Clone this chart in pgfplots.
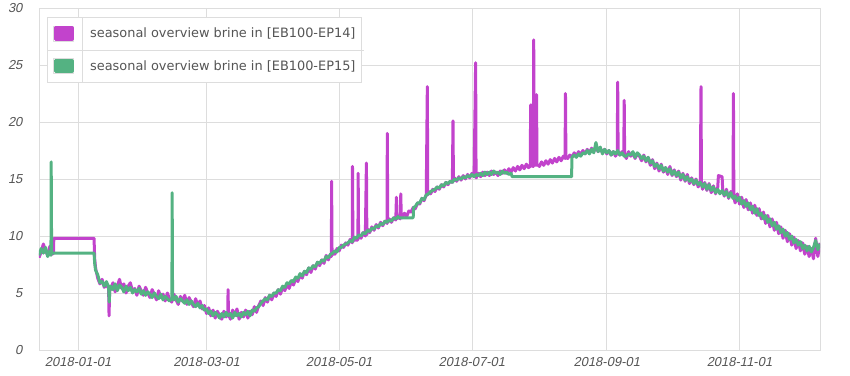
\documentclass[border=0pt]{standalone}
\usepackage{pgfplots}
\pgfplotsset{compat=1.18}
\usepackage{fontspec}
\setmainfont{Liberation Sans}
\newfontfamily\legfont{DejaVu Sans}
\newfontfamily\tickfont{Liberation Sans}[FakeSlant=0.2]
\definecolor{cP}{RGB}{194,67,204}
\definecolor{cG}{RGB}{84,178,130}
\definecolor{gridc}{RGB}{221,221,221}
\definecolor{tickc}{RGB}{85,85,85}
\begin{document}
\begin{tikzpicture}
\path[use as bounding box] (-39pt,-25pt) rectangle (811pt,350pt);
\begin{axis}[
 at={(0pt,0pt)}, anchor=south west,
 scale only axis, width=781pt, height=342pt,
 xmin=-18, xmax=341, ymin=0, ymax=30,
 xtick={0,59,120,181,243,304},
 xticklabels={2018-01-01,2018-03-01,2018-05-01,2018-07-01,2018-09-01,2018-11-01},
 ytick={0,5,10,15,20,25,30},
 grid=major, major grid style={draw=gridc, line width=0.8pt},
 axis line style={draw=gridc, line width=0.8pt},
 tick style={draw=none},
 /pgf/number format/assume math mode=true,
 tick label style={font=\tickfont\fontsize{13}{13}\selectfont, text=tickc},
 yticklabel style={xshift=-13pt},
 xticklabel style={yshift=-3.5pt},
 legend cell align=left,
 legend image code/.code={\draw[draw=gridc, fill=white, line width=0.8pt] (0pt,-7.5pt) rectangle (20pt,7.5pt); \fill[#1] (1.6pt,-5.9pt) rectangle (18.4pt,5.9pt);},
 legend style={at={(axis description cs:0.0102,0.974)}, anchor=north west, draw=gridc, line width=0.8pt, fill=white,
   font=\legfont\fontsize{12.9}{14}\selectfont, text=tickc, inner xsep=6pt, inner ysep=0pt, row sep=0pt, column sep=16pt,
   nodes={inner sep=0pt, minimum height=32.5pt, anchor=west}},
]
\addplot[cP, line width=3pt, line join=round] coordinates {
(-18,8.1) (-17,8.6) (-16,9.3) (-15,8.7) (-14,8.3) (-13,9.1) (-12,8.4) (-11.3,8.5) (-11.2,9.8) (7.3,9.8) (7.6,8.0) (8,7.2) (9,6.3) (10,5.8) (11,6.2) (12,5.5) (13,5.7) (14,5.4) (14.2,3.0) (14.5,5.5)
(15,5.3) (16,5.9) (17,5.1) (18,5.6) (19,6.2) (20,5.4) (21,5.8) (22,5.0) (23,5.6) (24,5.9) (25,5.1) (26,5.4) (27,4.8) (28,5.6) (29,5.2) (30,4.8) (31,5.5) (32,5.0) (33,4.6) (34,5.3) (35,4.9) (36,4.4) (37,5.2) (38,4.6) (39,4.9) (40,4.3) (41,5.0) (42,4.5) (43,4.2) (44,4.9) (45,4.4) (46,4.0) (47,4.7) (48,4.3) (49,4.8) (50,4.0) (51,4.6) (52,4.2) (53,3.8) (54,4.5) (55,3.9) (56,4.3) (57,3.6) (58,3.9) (59,3.2) (60,3.7) (61,3.0) (62,3.5) (63,2.8) (64,3.4) (65,3.0) (66,2.7) (67,3.4) (68,2.9) (68.8,3.2) (68.9,5.3) (69.1,3.1) (70,2.7) (71,3.5) (72,3.0) (73,3.6) (74,2.7) (75,3.3) (76,2.9) (77,3.5) (78,2.8) (79,3.4) (80,3.1) (81,3.8) (82,3.3) (83,3.9)
(84,4.3) (85,3.9) (86,4.6) (87,4.2) (88,4.8) (89,4.4) (90,5.0) (91,4.7) (92,5.3) (93,4.9) (94,5.5) (95,5.2) (96,5.8) (97,5.4) (98,6.0) (99,5.7) (100,6.3) (101,6.0) (102,6.6) (103,6.3) (104,6.9) (105,6.6) (106,7.2) (107,6.8) (108,7.4) (109,7.1) (110,7.7) (111,7.4) (112,7.9) (113,7.6) (114,8.3) (115,7.9) (116,8.4) (116.4,8.2) (116.5,14.8) (116.7,8.3) (117,8.6) (118,8.4) (119,8.9) (120,8.7) (121,9.2) (122,9.0) (123,9.4) (124,9.2) (125,9.7) (126,9.4) (126.1,16.1) (126.3,9.5) (127,9.8) (128,9.6) (128.6,9.7) (128.7,15.5) (128.9,9.9) (129,10.1) (130,9.8) (131,10.3) (132,10.0) (132.5,16.4) (132.7,10.1) (133,10.6) (134,10.3) (135,10.8) (136,10.5) (137,11.0) (138,10.7) (139,11.2) (140,10.9) (141,11.3) (142,11.1) (142.1,19.0) (142.3,11.2) (143,11.5) (144,11.2) (145,11.6) (146,11.4) (146.3,13.4) (146.5,11.5) (147,11.8) (148,11.5) (148.3,13.7) (148.5,11.8) (149,11.6) (150,12.0) (151,11.7) (152,12.2) (153,12.1) (154,12.5) (155,12.4) (156,12.9) (157,12.8) (158,13.3) (159,13.1) (160,13.6) (160.5,23.1) (160.7,13.6) (161,13.9) (162,13.7) (163,14.1) (164,13.9) (165,14.3) (166,14.1) (167,14.5) (168,14.3) (169,14.7) (170,14.5) (171,14.8) (172,14.7) (172.3,20.1) (172.5,14.8) (173,15.1) (174,14.8) (175,15.2) (176,14.9) (177,15.3) (178,15.0) (179,15.4) (180,15.1) (181,15.5) (182,15.2) (182.7,25.2) (182.9,15.3) (183,15.1) (184,15.5) (185,15.2) (186,15.6) (187,15.3) (188,15.6) (189,15.3) (190,15.7) (191,15.4) (192,15.6) (193,15.3) (194,15.7) (195,15.5) (196,15.8) (197,15.5) (198,15.9) (199,15.6) (200,16.0) (201,15.7) (202,16.1) (203,15.8) (204,16.2) (205,15.9) (206,16.3) (207,16.0) (207.8,16.1) (208,21.5) (208.2,16.2) (209.2,16.1) (209.4,27.2) (209.6,16.3) (210.5,16.2) (210.7,22.4) (210.9,16.3) (212,16.1) (213,16.5) (214,16.2) (215,16.6) (216,16.3) (217,16.7) (218,16.4) (219,16.8) (220,16.5) (221,16.9) (222,16.6) (223,17.0) (223.8,16.8) (224,22.5) (224.2,16.9) (225,16.8) (226,17.1) (227,16.9) (228,17.3) (229,17.0) (230,17.4) (231,17.1) (232,17.5) (233,17.2) (234,17.6) (235,17.3) (236,17.7) (237,17.4) (238,17.8) (239,17.4) (240,17.7) (241,17.3) (242,17.6) (243,17.2) (244,17.5) (245,17.1) (246,17.4) (247,17.0) (247.8,17.3) (248,23.5) (248.2,17.3) (249,17.1) (250,17.4) (250.8,17.2) (251,21.9) (251.2,17.1)
(252,16.8) (253,17.4) (254,17.0) (255,17.3) (256,16.8) (257,17.2) (258,17.0) (259,16.6) (260,17.1) (261,16.5) (262,16.9) (263,16.2) (264,16.7) (265,15.9) (266,16.4) (267,15.7) (268,16.3) (269,15.6) (270,16.0) (271,15.4) (272,16.1) (273,15.3) (274,15.8) (275,15.2) (276,15.7) (277,14.9) (278,15.5) (279,14.8) (280,15.4) (281,14.6) (282,15.1) (283,14.5) (284,15.0) (285,14.3) (286,14.9) (286.3,23.1) (286.5,14.6) (287,14.1) (288,14.7) (289,14.0) (290,14.6) (291,13.8) (292,14.4) (293,13.7) (294,14.3) (294.3,15.3) (296,15.2) (296.3,13.9) (297,13.5) (298,14.1) (299,13.3) (300,13.9) (301,13.6) (301.2,22.5) (301.4,13.4) (302,12.9) (303,13.7) (304,12.8) (305,13.4) (306,12.5) (307,13.2) (308,12.3) (309,12.9) (310,12.0) (311,12.7) (312,11.8) (313,12.4) (314,11.5) (315,12.1) (316,11.1) (317,11.8) (318,10.8) (319,11.5) (320,10.5) (321,11.2) (322,10.2) (323,10.8) (324,9.8) (325,10.5) (326,9.5) (327,10.2) (328,9.2) (329,9.9) (330,8.9) (331,9.6) (332,8.7) (333,9.4) (334,8.4) (335,9.1) (336,8.2) (337,8.9) (338,8.0) (339,9.8) (340,8.2) (341,9.4)
};
\addlegendentry{seasonal overview brine in [EB100-EP14]}
\addplot[cG, line width=3pt, line join=round] coordinates {
(-18,8.3) (-17,8.9) (-16,8.5) (-15,9.0) (-14,8.2) (-13,8.7) (-12.5,8.3) (-12.4,16.5) (-12.2,8.5) (7.3,8.5) (7.6,7.6) (8,7.0) (9,6.6) (10,5.9) (11,6.0) (12,5.6) (13,6.0) (14,5.5) (14.3,4.2) (14.6,5.6)
(15,5.6) (16,5.3) (17,5.8) (18,5.2) (19,5.7) (20,5.5) (21,5.1) (22,5.6) (23,5.2) (24,5.5) (25,5.0) (26,5.3) (27,5.1) (28,5.4) (29,4.9) (30,5.2) (31,4.8) (32,5.1) (33,4.9) (34,4.6) (35,5.0) (36,4.7) (37,4.5) (38,4.9) (39,4.4) (40,4.7) (41,4.5) (42,4.3) (43.1,4.5) (43.2,13.8) (43.4,4.5) (44,4.4) (45,4.7) (46,4.2) (47,4.5) (48,4.3) (49,4.1) (50,4.4) (51,4.0) (52,4.3) (53,4.0) (54,3.8) (55,4.1) (56,3.7) (57,3.9) (58,3.5) (59,3.6) (60,3.2) (61,3.4) (62,3.0) (63,3.3) (64,3.1) (65,2.8) (66,3.2) (67,2.9) (68,3.3) (69,3.0) (70,3.2) (71,2.8) (72,3.3) (73,3.0) (74,3.2) (75,2.9) (76,3.3) (77,3.1) (78,3.4) (79,3.0) (80,3.5) (81,3.4) (82,3.7) (83,3.8)
(84,4.1) (85,4.3) (86,4.5) (87,4.4) (88,4.8) (89,4.7) (90,5.0) (91,5.0) (92,5.3) (93,5.2) (94,5.6) (95,5.5) (96,5.9) (97,5.8) (98,6.1) (99,6.0) (100,6.4) (101,6.3) (102,6.7) (103,6.5) (104,6.9) (105,6.8) (106,7.2) (107,7.1) (108,7.4) (109,7.3) (110,7.7) (111,7.6) (112,7.9) (113,7.8) (114,8.2) (115,8.1) (116,8.4) (117,8.5) (118,8.7) (119,8.6) (120,9.0) (121,9.0) (122,9.2) (123,9.3) (124,9.4) (125,9.6) (126,9.5) (127,9.9) (128,9.8) (129,10.1) (130,10.0) (131,10.3) (132,10.2) (133,10.5) (134,10.4) (135,10.7) (136,10.6) (137,10.9) (138,10.8) (139,11.1) (140,11.0) (141,11.3) (142,11.2) (143,11.4) (144,11.3) (145,11.6) (146,11.5) (147,11.7) (147.5,11.6) (154,11.6) (154.2,12.5) (155,12.6) (156,12.9) (157,12.9) (158,13.3) (159,13.2) (160,13.6) (161,13.7) (162,13.9) (163,14.0) (164,14.1) (165,14.3) (166,14.2) (167,14.5) (168,14.4) (169,14.7) (170,14.6) (171,14.8) (172,14.7) (173,15.0) (174,14.9) (175,15.1) (176,15.0) (177,15.2) (178,15.1) (179,15.3) (180,15.2) (181,15.4) (182,15.2) (183,15.4) (184,15.3) (185,15.5) (186,15.3) (187,15.6) (188,15.4) (189,15.6) (190,15.4) (191,15.7) (192,15.5) (193,15.6) (194,15.4) (195,15.7) (196,15.5) (197,15.6) (198,15.4) (199,15.5) (199.5,15.2) (226.8,15.2) (227,16.9) (228,17.1) (229,16.9) (230,17.2) (231,17.0) (232,17.3) (233,17.2) (234,17.5) (235,17.2) (236,17.6) (237,17.3) (238,18.2) (239,17.4) (240,17.8) (241,17.2) (242,17.6) (243,17.3) (244,17.5) (245,17.1) (246,17.4) (247,17.2) (248,17.5) (249,17.1) (250,17.3) (251,17.0)
(252,17.0) (253,17.2) (254,17.1) (255,17.4) (256,16.9) (257,17.3) (258,17.1) (259,16.8) (260,17.0) (261,16.6) (262,16.9) (263,16.4) (264,16.6) (265,16.1) (266,16.3) (267,15.9) (268,16.2) (269,15.7) (270,16.0) (271,15.6) (272,15.9) (273,15.4) (274,15.7) (275,15.3) (276,15.6) (277,15.1) (278,15.4) (279,14.9) (280,15.2) (281,14.8) (282,15.0) (283,14.6) (284,14.9) (285,14.5) (286,14.7) (287,14.3) (288,14.6) (289,14.1) (290,14.5) (291,14.0) (292,14.3) (293,13.8) (294,14.1) (295,13.7) (296,14.0) (297,13.6) (298,13.9) (299,13.4) (300,13.8) (301,13.3) (302,13.5) (303,13.1) (304,13.4) (305,12.8) (306,13.1) (307,12.6) (308,12.9) (309,12.3) (310,12.6) (311,12.0) (312,12.4) (313,11.8) (314,12.0) (315,11.5) (316,11.8) (317,11.2) (318,11.5) (319,10.9) (320,11.2) (321,10.6) (322,10.9) (323,10.3) (324,10.6) (325,10.0) (326,10.3) (327,9.7) (328,10.0) (329,9.4) (330,9.7) (331,9.2) (332,9.5) (333,8.9) (334,9.2) (335,8.7) (336,9.1) (337,8.6) (338,9.0) (339,9.6) (340,8.8) (341,9.3)
};
\addlegendentry{seasonal overview brine in [EB100-EP15]}
\end{axis}
\draw[gridc, line width=0.8pt] (8pt,300pt) -- (325pt,300pt);
\draw[gridc, line width=0.8pt] (43pt,268pt) -- (43pt,333pt);
\end{tikzpicture}
\end{document}
